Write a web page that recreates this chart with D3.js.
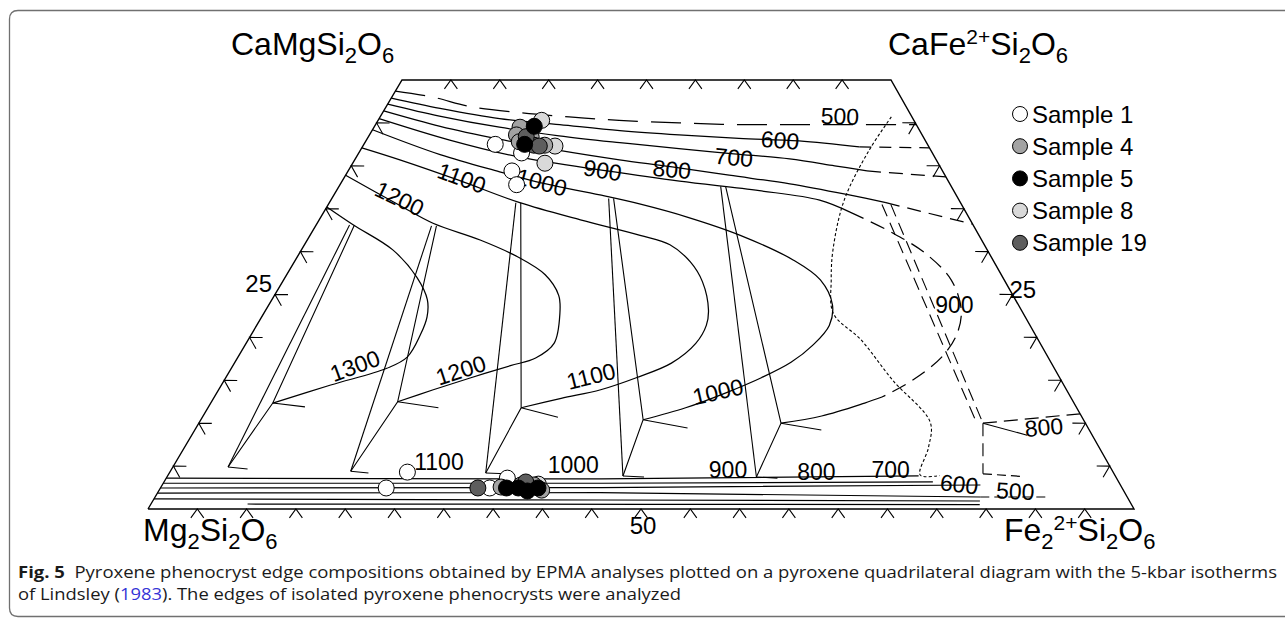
<!DOCTYPE html>
<html>
<head>
<meta charset="utf-8">
<script src="https://cdn.jsdelivr.net/npm/d3@7/dist/d3.min.js"></script>
<style>
body { margin: 0; background: #fff; }
svg { display: block; }
</style>
</head>
<body>
<div id="chart"></div>
<script>
// every point is [Wo, Fs] in mol% (En = 100 - Wo - Fs)

// samples
const sampleNames = ["Sample 1", "Sample 4", "Sample 5", "Sample 8", "Sample 19"];
const sample1 = [[42.5,13.4],[39.4,16.7],[37.8,18.0],[41.5,16.6],[4.3,24.1],[2.45,22.9],[2.45,33.4],[3.6,34.6]];
const sample4 = [[44.5,14.9],[43.6,15.0],[42.8,15.7],[43.4,16.6],[42.4,18.5],[2.56,34.5],[2.2,38.8],[2.8,37.7],[2.8,36.4]];
const sample5 = [[44.6,16.3],[42.5,16.4],[2.45,35.1],[2.1,37.4],[2.45,38.3],[2.45,36.3]];
const sample8 = [[42.3,19.6],[40.3,19.6],[45.3,16.7],[2.9,38.1]];
const sample19 = [[42.4,17.4],[42.3,18.0],[43.4,16.1],[2.45,32.2],[3.15,36.7]];

// augite isotherms (Lindsley 1983, 5 kbar)
const iso500 = [[48.7,0],[48.0,4.2],[46.9,8.6],[46.2,14],[45.7,19.3],[45.3,24.6],[45.0,30.9],[44.8,37.1],[44.8,43.2],[44.8,49.3],[44.8,55.2]];
const iso600 = [[47.9,0],[46.7,5.6],[45.5,12.3],[44.8,18.8],[44.1,25.3],[43.6,31.6],[43.2,37.9],[42.9,44.2],[42.2,50.7]];
const iso600Ext = [[42.2,50.7],[42.1,57.9]];
const iso700 = [[47.2,0],[45.8,6.0],[44.5,12.8],[43.5,19.4],[42.7,26.0],[42.0,32.4],[41.4,38.3],[40.8,44.3],[40.0,49.3],[39.4,52.9]];
const iso700Ext = [[39.4,52.9],[38.7,61.3]];
const iso800 = [[46.4,0],[44.6,6.7],[43.1,13.5],[41.8,20.3],[40.7,27.0],[39.9,32.6],[38.9,39.1],[37.9,45.8],[36.6,52.5],[35.7,56.7]];
const iso800Ext = [[35.7,56.7],[33.2,66.8]];
const iso800Low = [[10.0,79.6],[11.1,88.9]];
const iso900 = [[45.5,0],[43.0,8.5],[41.0,16.7],[39.4,26.4],[38.2,34.4],[37.1,43.1],[36.0,49.8],[34.6,53.6]];
const iso900Ext = [[34.6,53.6],[32.3,58.9],[29.8,63.7],[26.7,67.9],[23.2,70.7],[20.3,71.7],[17.7,71.5],[15.0,69.9],[13.05,67.8]];
const iso900Low = [[13.05,67.8],[12.35,66.4],[10.84,62.8],[10.0,59.1]];
const iso1000 = [[44.2,0],[41.3,8.4],[39.3,15.5],[38.0,20.4],[36.6,27.1],[35.5,31.9],[34.0,37.4],[31.9,43.8],[29.0,50.7],[26.7,54.6],[23.8,57.3],[21.4,58.2],[19.1,57.7],[17.1,56.5],[15.3,54.4],[13.6,51.8],[11.8,48.5],[10.4,44.9]];
const iso1100 = [[42.1,0],[40.7,4.6],[38.3,11.9],[35.7,19.4],[33.7,26.6],[31.9,33.6],[30.8,37.2],[28.8,40.3],[26.5,42.7],[23.2,45.0],[21.4,45.7],[19.3,45.7],[17.0,44.4],[15.3,41.7],[13.9,38.8],[12.9,35.3],[11.8,31.8]];
const iso1200 = [[38.9,0],[35.4,7.3],[33.3,11.8],[31.35,17.6],[29.4,22.4],[27.3,26.3],[24.9,28.9],[22.8,30.1],[19.3,31.3],[17.6,30.3],[16.7,28.2],[15.3,24.9],[13.9,21.8],[12.5,18.9]];
const iso1300 = [[35.2,0],[33.1,3.8],[30.2,9.3],[27.0,13.4],[24.4,15.8],[22.4,16.8],[20.3,17.2],[17.7,17.2],[16.4,15.8],[14.45,11.1],[12.35,6.3]];

// low-Ca pyroxene isotherms along the En-Fs join
const low1 = [[3.6,0],[3.5,44.2],[3.85,76.2]];
const low2 = [[3.0,0],[3.0,44.5],[3.15,78.0]];
const low3 = [[2.45,0],[2.5,44.7],[2.8,83.0]];
const low4 = [[1.86,0],[1.9,44.9],[1.4,83.7]];
const low5 = [[1.17,0],[1.05,45.5],[0.93,83.9]];
const low6 = [[0.58,9.8],[0.55,50],[0.5,84.1]];
const lowExt = [[[4.1,82.6],[3.8,86.6]], [[1.4,83.7],[1.4,90.3]]];

// boundary of the stable pyroxene field
const fieldBoundary = [[45.7,52.2],[41.8,51.9],[36.0,52.3],[30.2,54.1],[26.7,55.7],[22.8,57.9],[19.7,62.3],[15.0,67.9],[10.1,74.2],[7.2,75.5],[3.96,76.3],[3.9,78.3]];

// three-pyroxene tie lines
const tieLeft = [[[33.1,3.4],[4.9,5.6]], [[33.0,11.8],[4.4,18.3]], [[35.7,19.0],[4.2,32.1]], [[36.2,28.2],[3.85,46.2]], [[37.6,38.9],[3.73,59.8]]];
const tieRight = [[[33.1,3.9],[12.35,6.3],[4.9,5.6]], [[33.0,12.3],[12.5,18.9],[4.4,18.3]], [[35.7,19.5],[11.8,31.8],[4.2,32.1]], [[36.2,28.7],[10.4,44.9],[3.85,46.2]], [[37.6,39.4],[10.0,59.1],[3.73,59.8]]];
const tieArms = [[[12.35,6.3],[11.9,9.8]], [[12.5,18.9],[11.8,23.4]], [[11.8,31.8],[10.7,36.1]], [[10.4,44.9],[9.44,49.9]], [[10.0,59.1],[9.2,63.6]], [[10.0,79.6],[8.6,84.8]]];
const tieFeet = [[[4.9,5.6],[4.66,7.7]], [[4.4,18.3],[4.2,20.2]], [[4.2,32.1],[4.1,34.2]], [[3.85,46.2],[3.73,48.4]], [[3.73,59.8],[3.6,62.0]]];
const tieDashed = [[[35.5,56.4],[10.2,78.8]], [[35.5,57.3],[10.0,79.6]], [[10.0,79.6],[4.1,82.6]]];

// isotherm labels
const upperLabels = ["500","600","700","800","900","1000","1100","1200"];
const upperLabelAt = [[45.8,46.9],[43.0,42.2],[41.0,38.5],[39.6,32.9],[39.5,25.9],[38.1,20.4],[38.6,12.0],[36.2,6.9]];
const middleLabels = ["1300","1200","1100","1000","900","800"];
const middleLabelAt = [[16.7,12.4],[16.2,23.4],[15.5,37.0],[13.7,50.8],[23.8,69.7],[9.56,86.0]];
const lowerLabels = ["1100","1000","900","800","700","600","500"];
const lowerLabelAt = [[5.48,26.7],[5.13,40.5],[4.55,56.5],[4.3,65.6],[4.55,73.0],[2.9,80.8],[2.1,86.9]];
const axisTicks = [5,10,15,20,25,30,35,40,45];
const baseTicks = [5,10,15,20,25,30,35,40,45,50,55,60,65,70,75,80,85,90,95];

const width = 1285, height = 618;
const font = "'Liberation Sans', Arial, Helvetica, sans-serif";

const svg = d3.select("#chart").append("svg")
    .attr("width", width)
    .attr("height", height);

// frame round the figure
svg.append("path")
    .attr("d", "M1292,10.5 H18 Q9.5,10.5 9.5,19 V608 Q9.5,616.5 18,616.5 H1292")
    .attr("fill", "none")
    .attr("stroke", "#707070")
    .attr("stroke-width", 1.3);

// quadrilateral: Wo runs up, Fs runs along each row
const yScale = d3.scaleLinear().domain([0, 50]).range([509, 80]);
const xLeft = d3.scaleLinear().domain([0, 50]).range([148, 402]);
const xRight = d3.scaleLinear().domain([0, 50]).range([1134, 891]);

function pos(wo, fs) {
    var l = xLeft(wo), r = xRight(wo);
    return [l + (r - l) * fs / (100 - wo), yScale(wo)];
}

const curve = d3.line()
    .x(function(d) { return pos(d[0], d[1])[0]; })
    .y(function(d) { return pos(d[0], d[1])[1]; })
    .curve(d3.curveCatmullRom.alpha(0.5));
const straight = d3.line()
    .x(function(d) { return pos(d[0], d[1])[0]; })
    .y(function(d) { return pos(d[0], d[1])[1]; });

const lines = svg.append("g")
    .attr("fill", "none")
    .attr("stroke", "#000")
    .attr("stroke-width", 1.25);

function draw(gen, data, dash, w) {
    lines.append("path")
        .attr("d", gen(data))
        .attr("stroke-dasharray", dash || null)
        .attr("stroke-width", w || null);
}

// outline
draw(straight, [[0,0],[0,100],[50,50],[50,0],[0,0]], null, 1.4);

[iso600, iso700, iso800, iso900, iso1000, iso1100, iso1200, iso1300, iso900Low].forEach(function(d) {
    draw(curve, d);
});
draw(curve, iso500, "30,13");
draw(curve, iso600Ext, "12,8");
draw(curve, iso700Ext, "14,8");
draw(curve, iso800Ext, "14,8");
draw(curve, iso800Low, "14,7");
draw(curve, iso900Ext, "15,8");

[low1, low2, low3, low4, low5, low6].forEach(function(d) {
    draw(straight, d, null, 1.2);
});
lowExt.forEach(function(d) { draw(straight, d, "9,5", 1.2); });

draw(curve, fieldBoundary, "3,2.2", 1.1);

tieLeft.forEach(function(d) { draw(straight, d, null, 1.1); });
tieRight.forEach(function(d) { draw(straight, d, null, 1.1); });
tieArms.forEach(function(d) { draw(straight, d, null, 1.1); });
tieFeet.forEach(function(d) { draw(straight, d, null, 1.1); });
tieDashed.forEach(function(d) { draw(straight, d, "13,7", 1.1); });

// edge ticks: carets with the point on the edge
function caret(p, dir, spread, len) {
    var a1 = (dir - spread) * Math.PI / 180, a2 = (dir + spread) * Math.PI / 180;
    return "M" + (p[0] + len * Math.cos(a1)) + "," + (p[1] + len * Math.sin(a1)) +
        "L" + p[0] + "," + p[1] +
        "L" + (p[0] + len * Math.cos(a2)) + "," + (p[1] + len * Math.sin(a2));
}
function normalAngle(a, b) {
    // inward normal for an edge walked bottom to top
    return Math.atan2(b[0] - a[0], -(b[1] - a[1])) * 180 / Math.PI;
}
var leftDir = normalAngle(pos(0, 0), pos(50, 0)) ;
var rightDir = normalAngle(pos(0, 100), pos(50, 50)) + 180;
var tickPath = "";
baseTicks.forEach(function(f) { tickPath += caret(pos(0, f), 90, 36, 11); });
axisTicks.forEach(function(f) { tickPath += caret(pos(50, f), 90, 36, 11); });
axisTicks.forEach(function(w) { tickPath += caret(pos(w, 0), leftDir, 30, 13); });
axisTicks.forEach(function(w) { tickPath += caret(pos(w, 100 - w), rightDir, 30, 13); });
lines.append("path").attr("d", tickPath).attr("stroke-width", 1.1);

// isotherm labels
const upperAngles = [2, 5, 5, 5, 10, 15, 20, 26];
const middleAngles = [-20, -18, -14, -13, 0, -5];
const lowerAngles = [0, 0, 0, 0, 0, 7, 3];
function labels(names, at, angles) {
    svg.append("g").selectAll("text")
        .data(names)
      .enter()
        .append("text")
        .attr("transform", function(d, i) {
            var p = pos(at[i][0], at[i][1]);
            return "translate(" + p[0] + "," + p[1] + ") rotate(" + angles[i] + ")";
        })
        .attr("text-anchor", "middle")
        .attr("dy", "0.36em")
        .style("font-family", font)
        .style("font-size", "23px")
        .text(function(d) { return d; });
}
labels(upperLabels, upperLabelAt, upperAngles);
labels(middleLabels, middleLabelAt, middleAngles);
labels(lowerLabels, lowerLabelAt, lowerAngles);

// axis numbers
var p25l = pos(25, 0), p25r = pos(25, 75), p50 = pos(0, 50);
svg.append("text").attr("x", p25l[0] - 3).attr("y", p25l[1] - 3)
    .attr("text-anchor", "end").style("font-family", font).style("font-size", "24px").text("25");
svg.append("text").attr("x", p25r[0] - 3).attr("y", p25r[1] + 3)
    .attr("text-anchor", "start").style("font-family", font).style("font-size", "24px").text("25");
svg.append("text").attr("x", p50[0] + 2).attr("y", p50[1] + 25)
    .attr("text-anchor", "middle").style("font-family", font).style("font-size", "24px").text("50");

// end-member names
function formula(x, y, parts) {
    var t = svg.append("text")
        .attr("x", x).attr("y", y)
        .style("font-family", font)
        .style("font-size", "32px");
    parts.forEach(function(p) {
        var s = t.append("tspan").text(p[0]);
        if (p[1] === "sub") s.attr("y", y + 8).style("font-size", "22px");
        else if (p[1] === "sup") s.attr("y", y - 11).style("font-size", "21px");
        else s.attr("y", y);
    });
}
formula(231, 55, [["CaMgSi","n"],["2","sub"],["O","n"],["6","sub"]]);
formula(888, 55, [["CaFe","n"],["2+","sup"],["Si","n"],["2","sub"],["O","n"],["6","sub"]]);
formula(143, 541, [["Mg","n"],["2","sub"],["Si","n"],["2","sub"],["O","n"],["6","sub"]]);
formula(1004, 541, [["Fe","n"],["2","sub"],["2+","sup"],["Si","n"],["2","sub"],["O","n"],["6","sub"]]);

// samples
const sampleFill = ["#ffffff", "#a3a3a3", "#000000", "#d9d9d9", "#5e5e5e"];
const sampleData = [sample1, sample4, sample5, sample8, sample19];
const drawOrder = [0, 3, 1, 4, 2];
drawOrder.forEach(function(k) {
    svg.append("g").selectAll("circle")
        .data(sampleData[k])
      .enter()
        .append("circle")
        .attr("cx", function(d) { return pos(d[0], d[1])[0]; })
        .attr("cy", function(d) { return pos(d[0], d[1])[1]; })
        .attr("r", 8)
        .style("fill", sampleFill[k])
        .style("stroke", "#000")
        .style("stroke-width", 1);
});

// legend
var legend = svg.append("g").selectAll("g")
    .data(sampleNames)
  .enter()
    .append("g")
    .attr("transform", function(d, i) { return "translate(1020," + (114 + i * 32.2) + ")"; });
legend.append("circle")
    .attr("r", 7.5)
    .style("fill", function(d, i) { return sampleFill[i]; })
    .style("stroke", "#000")
    .style("stroke-width", 1);
legend.append("text")
    .attr("x", 12)
    .attr("dy", "0.36em")
    .style("font-family", font)
    .style("font-size", "24px")
    .text(function(d) { return d; });

// caption
var cap1 = svg.append("text")
    .attr("x", 18).attr("y", 578)
    .attr("textLength", 1259).attr("lengthAdjust", "spacingAndGlyphs")
    .style("font-family", "'Open Sans', 'Noto Sans', sans-serif")
    .style("font-size", "16.5px")
    .style("fill", "#1a1a1a");
cap1.append("tspan").style("font-weight", "bold").text("Fig. 5");
cap1.append("tspan").attr("xml:space", "preserve").text("\u00a0\u00a0Pyroxene phenocryst edge compositions obtained by EPMA analyses plotted on a pyroxene quadrilateral diagram with the 5-kbar isotherms");

var cap2 = svg.append("text")
    .attr("x", 18).attr("y", 600)
    .attr("textLength", 663).attr("lengthAdjust", "spacingAndGlyphs")
    .style("font-family", "'Open Sans', 'Noto Sans', sans-serif")
    .style("font-size", "16.5px")
    .style("fill", "#1a1a1a");
cap2.append("tspan").text("of Lindsley (");
cap2.append("tspan").style("fill", "#3434d6").text("1983");
cap2.append("tspan").text("). The edges of isolated pyroxene phenocrysts were analyzed");
</script>
</body>
</html>
